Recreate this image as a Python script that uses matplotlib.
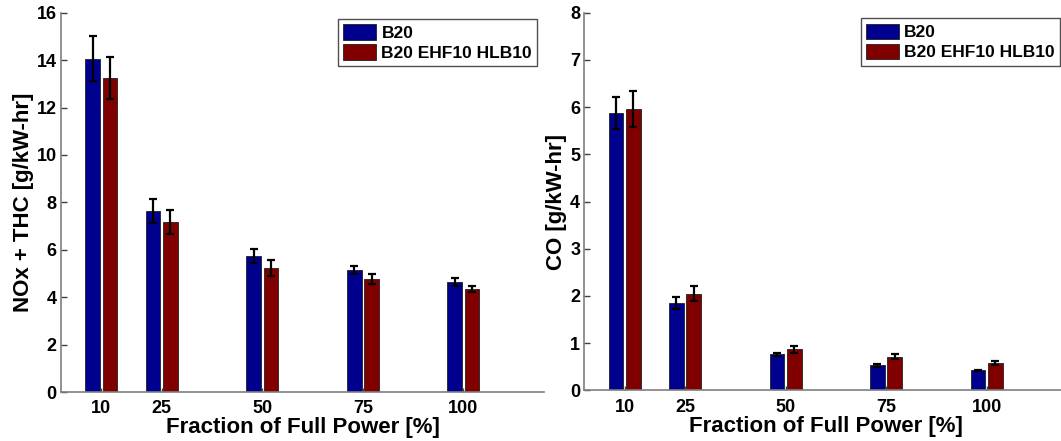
#!/usr/bin/env python3
# -*- coding: utf-8 -*-
"""
Emissions bar charts (B20 vs B20 EHF10 HLB10) at fractions of full power.
"""

import matplotlib
matplotlib.use('Agg')
import matplotlib.pyplot as plt
import numpy

# data
power = [10, 25, 50, 75, 100]
series_names = ['B20', 'B20 EHF10 HLB10']

nox_thc_b20 = [14.05, 7.64, 5.73, 5.14, 4.64]
nox_thc_b20_err = [0.95, 0.50, 0.30, 0.18, 0.15]
nox_thc_ehf = [13.25, 7.17, 5.23, 4.77, 4.33]
nox_thc_ehf_err = [0.90, 0.50, 0.33, 0.20, 0.13]

co_b20 = [5.88, 1.85, 0.76, 0.53, 0.42]
co_b20_err = [0.34, 0.13, 0.04, 0.03, 0.02]
co_ehf = [5.97, 2.05, 0.87, 0.71, 0.58]
co_ehf_err = [0.38, 0.15, 0.07, 0.05, 0.05]

BLUE = '#00008f'
RED = '#800000'
SPINE = '#7f7f7f'

plt.rcParams['font.family'] = ['Liberation Sans', 'DejaVu Sans']
plt.rcParams['font.weight'] = 'bold'

fig = plt.figure(figsize=(10.61, 4.41), dpi=100)
ax_left = fig.add_axes([0.0575, 0.1111, 0.4552, 0.860])
ax_right = fig.add_axes([0.5507, 0.1150, 0.4552, 0.856])


def draw_panel(ax, b20, b20_err, ehf, ehf_err, ymax, ylabel, legend_anchor):
    x = numpy.array(power, dtype=float)
    width = 3.65
    offset = 2.15
    err_kw = dict(ecolor='black', elinewidth=1.6, capsize=3, capthick=1.6)
    ax.bar(x - offset, b20, width, yerr=b20_err, color=BLUE,
           edgecolor='#202020', linewidth=0.6, label=series_names[0],
           error_kw=err_kw)
    ax.bar(x + offset, ehf, width, yerr=ehf_err, color=RED,
           edgecolor='#202020', linewidth=0.6, label=series_names[1],
           error_kw=err_kw)
    ax.set_xlim(0, 120)
    ax.set_ylim(0, ymax)
    ax.set_xticks(power)
    ax.set_yticks(numpy.arange(0, ymax + 1, ymax // 8))
    for side in ('top', 'right'):
        ax.spines[side].set_visible(False)
    for side in ('left', 'bottom'):
        ax.spines[side].set_color(SPINE)
        ax.spines[side].set_linewidth(1.2)
    ax.tick_params(axis='both', direction='in', color='#404040',
                   labelsize=13, length=4, width=1)
    ax.tick_params(axis='x', pad=6, length=3)
    ax.tick_params(axis='y', pad=3)
    ax.set_xlabel('Fraction of Full Power [%]', fontsize=16,
                  fontweight='bold', labelpad=0)
    ax.set_ylabel(ylabel, fontsize=16, fontweight='bold', labelpad=2)
    leg = ax.legend(loc='upper right', bbox_to_anchor=legend_anchor,
                    bbox_transform=fig.transFigure, borderaxespad=0,
                    fontsize=12.5, handlelength=1.9, handleheight=1.0,
                    handletextpad=0.3, labelspacing=0.2, borderpad=0.3,
                    fancybox=False, framealpha=1)
    leg.get_frame().set_edgecolor('#505050')
    leg.get_frame().set_linewidth(1.0)


draw_panel(ax_left, nox_thc_b20, nox_thc_b20_err, nox_thc_ehf,
           nox_thc_ehf_err, 16, 'NOx + THC [g/kW-hr]', (0.5064, 0.9569))
draw_panel(ax_right, co_b20, co_b20_err, co_ehf, co_ehf_err, 8,
           'CO [g/kW-hr]', (0.999, 0.9585))

plt.savefig('out.png', dpi=100)
